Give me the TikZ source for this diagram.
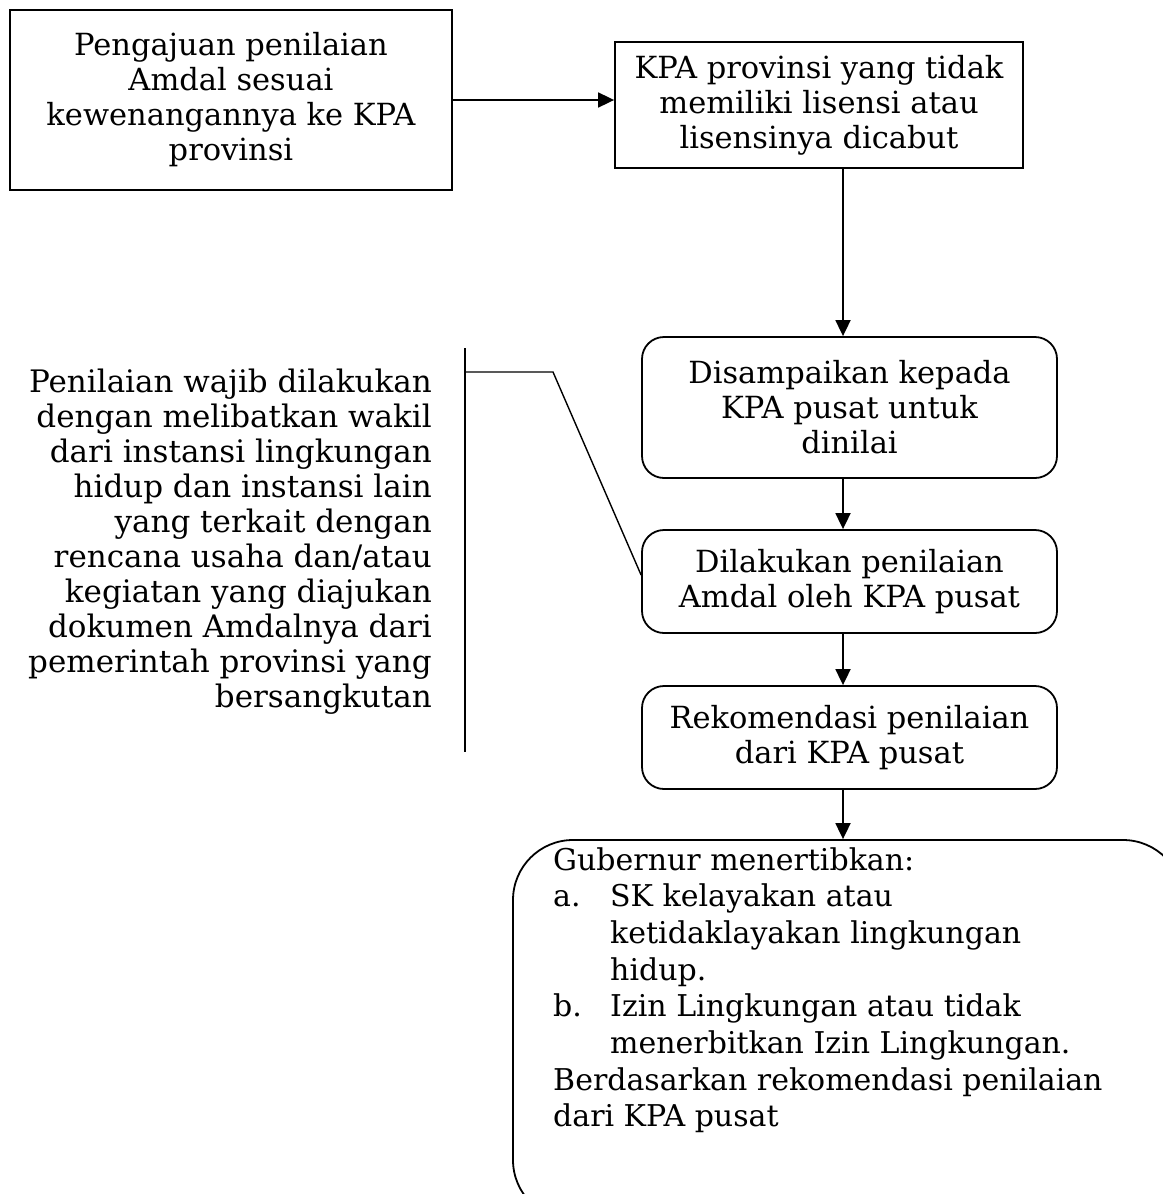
\documentclass[tikz,border=0pt]{standalone}
\usepackage{fontspec}
\setmainfont{DejaVu Serif}
\usetikzlibrary{arrows.meta,calc}
\begin{document}
\begin{tikzpicture}[x=1pt,y=-1pt,
  every node/.style={font=\fontsize{30.5}{35}\selectfont},
  sqbox/.style={draw,line width=1.8pt,inner sep=0pt,align=center},
  rbox/.style={draw,line width=1.8pt,inner sep=0pt,align=center,rounded corners=22pt},
  flow/.style={line width=1.8pt,-{Triangle[length=16pt,width=15pt]}},
  plain/.style={line width=1.4pt}]
\useasboundingbox (0,0) rectangle (1162,1194);
\node[sqbox,minimum width=442pt,minimum height=180pt] (A) at (231,100)
  {Pengajuan penilaian\\Amdal sesuai\\kewenangannya ke KPA\\provinsi};
\node[sqbox,minimum width=408pt,minimum height=126pt] (B) at (819,105)
  {KPA provinsi yang tidak\\memiliki lisensi atau\\lisensinya dicabut};
\node[rbox,minimum width=415pt,minimum height=141pt] (C) at (849.5,407.5)
  {Disampaikan kepada\\KPA pusat untuk\\dinilai};
\node[rbox,minimum width=415pt,minimum height=103pt] (D) at (849.5,581.5)
  {Dilakukan penilaian\\Amdal oleh KPA pusat};
\node[rbox,minimum width=415pt,minimum height=103pt] (E) at (849.5,737.5)
  {Rekomendasi penilaian\\dari KPA pusat};
\node[draw,line width=1.8pt,rounded corners=60pt,minimum width=670pt,minimum height=380pt,inner sep=0pt] (F) at (848,1030) {};
\node[anchor=north west,align=left,inner sep=0pt,font=\fontsize{30}{36.7}\selectfont] (Ft) at (553,847)
  {Gubernur menertibkan:\\
   \makebox[57pt][l]{a.}SK kelayakan atau\\
   \hspace*{57pt}ketidaklayakan lingkungan\\
   \hspace*{57pt}hidup.\\
   \makebox[57pt][l]{b.}Izin Lingkungan atau tidak\\
   \hspace*{57pt}menerbitkan Izin Lingkungan.\\
   Berdasarkan rekomendasi penilaian\\
   dari KPA pusat};
\node[anchor=east,align=right,inner sep=0pt,font=\fontsize{31}{35}\selectfont] (N) at (432,542)
  {Penilaian wajib dilakukan\\dengan melibatkan wakil\\dari instansi lingkungan\\hidup dan instansi lain\\yang terkait dengan\\rencana usaha dan/atau\\kegiatan yang diajukan\\dokumen Amdalnya dari\\pemerintah provinsi yang\\bersangkutan};
\coordinate (ax) at (843,0);
\coordinate (bt) at (465,348);
\coordinate (bb) at (465,752);
\coordinate (bh) at (465,372);
\coordinate (bk) at (553,372);
\draw[flow] (A.east |- 0,100) -- (B.west |- 0,100);
\draw[flow] (B.south -| ax) -- (C.north -| ax);
\draw[flow] (C.south -| ax) -- (D.north -| ax);
\draw[flow] (D.south -| ax) -- (E.north -| ax);
\draw[flow] (E.south -| ax) -- (F.north -| ax);
\draw[plain] (bt) -- (bb);
\draw[plain] (bh) -- (bk) -- (D.west |- 0,575);
\end{tikzpicture}
\end{document}
